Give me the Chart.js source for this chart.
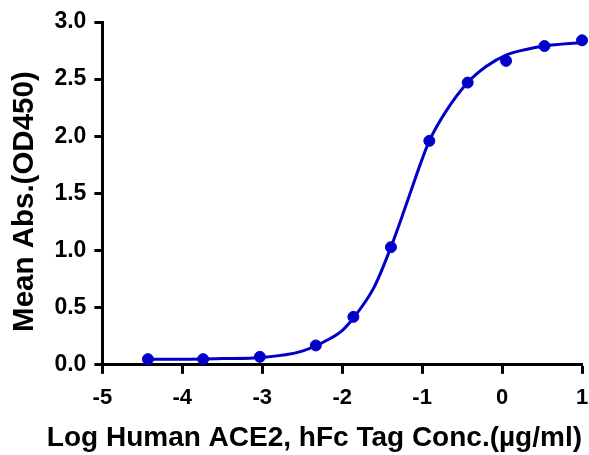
<!DOCTYPE html>
<html>
<head>
<meta charset="utf-8">
<script src="https://cdn.jsdelivr.net/npm/chart.js@4.4.0/dist/chart.umd.min.js"></script>
<style>
  html, body { margin: 0; padding: 0; background: #fff; }
  #wrap { width: 589px; height: 455px; }
</style>
</head>
<body>
<div id="wrap"><canvas id="grafico"></canvas></div>
<script>
// puntos medidos (log conc, absorbancia)
var logConc = [-4.43, -3.74, -3.03, -2.33, -1.86, -1.39, -0.91, -0.43, 0.05, 0.53, 1.0];
var absorbancia = [0.05, 0.05, 0.07, 0.17, 0.42, 1.03, 1.96, 2.47, 2.66, 2.79, 2.84];

// curva ajustada
var curvaX = [-4.43, -4.0, -3.5, -3.0, -2.5, -2.15, -2.0, -1.86, -1.6, -1.39, -1.2, -1.0, -0.91, -0.7, -0.43, -0.2, 0.05, 0.3, 0.53, 1.0];
var curvaY = [0.05, 0.05, 0.055, 0.065, 0.12, 0.23, 0.30, 0.41, 0.68, 1.03, 1.40, 1.80, 1.96, 2.22, 2.47, 2.61, 2.71, 2.76, 2.79, 2.82];

var xTicks = [-5, -4, -3, -2, -1, 0, 1];
var yTicks = [0.0, 0.5, 1.0, 1.5, 2.0, 2.5, 3.0];

var azul = '#0000c8';

document.addEventListener("DOMContentLoaded", function() {
    var puntos = logConc.map(function(x, i) { return { x: x, y: absorbancia[i] }; });
    var curva = curvaX.map(function(x, i) { return { x: x, y: curvaY[i] }; });

    var fuente = "'Liberation Sans', Arial, sans-serif";

    var config = {
        type: 'scatter',
        data: {
            datasets: [
                {
                    label: 'Ajuste',
                    data: curva,
                    showLine: true,
                    borderColor: azul,
                    borderWidth: 3,
                    pointRadius: 0,
                    cubicInterpolationMode: 'monotone',
                    clip: false
                },
                {
                    label: 'Datos',
                    data: puntos,
                    showLine: false,
                    backgroundColor: azul,
                    borderColor: azul,
                    pointRadius: 5.5,
                    clip: false
                }
            ]
        },
        options: {
            responsive: true,
            maintainAspectRatio: false,
            animation: false,
            layout: { padding: { left: 7, right: 7, top: 22, bottom: 0 } },
            plugins: {
                legend: { display: false },
                tooltip: { enabled: false },
                // titulo del eje X como titulo del grafico, para que no se comprima
                title: {
                    display: true,
                    position: 'bottom',
                    align: 'end',
                    text: 'Log Human ACE2, hFc Tag Conc.(µg/ml)',
                    color: '#000',
                    padding: { top: 0, bottom: 0 },
                    font: { family: fuente, size: 28, weight: 'bold', lineHeight: 1.17 }
                }
            },
            scales: {
                x: {
                    type: 'linear',
                    min: -5,
                    max: 1,
                    afterBuildTicks: function(axis) {
                        axis.ticks = xTicks.map(function(v) { return { value: v }; });
                    },
                    afterFit: function(axis) {
                        axis.paddingRight = 7;
                    },
                    border: { display: true, color: '#000', width: 3 },
                    grid: { drawOnChartArea: false, drawTicks: true, tickLength: 9, tickWidth: 3, tickColor: '#000' },
                    ticks: {
                        color: '#000',
                        padding: 11,
                        font: { family: fuente, size: 22, weight: 'bold' }
                    }
                },
                y: {
                    type: 'linear',
                    min: 0,
                    max: 3,
                    afterBuildTicks: function(axis) {
                        axis.ticks = yTicks.map(function(v) { return { value: v }; });
                    },
                    border: { display: true, color: '#000', width: 3 },
                    grid: { drawOnChartArea: false, drawTicks: true, tickLength: 8, tickWidth: 3, tickColor: '#000' },
                    ticks: {
                        color: '#000',
                        padding: 8,
                        font: { family: fuente, size: 23, weight: 'bold' },
                        callback: function(v) { return v.toFixed(1); }
                    },
                    title: {
                        display: true,
                        text: 'Mean Abs.(OD450)  ',
                        color: '#000',
                        padding: { top: 0, bottom: 4 },
                        font: { family: fuente, size: 29.5, weight: 'bold' }
                    }
                }
            }
        }
    };

    new Chart(document.getElementById('grafico').getContext('2d'), config);
});
</script>
</body>
</html>
